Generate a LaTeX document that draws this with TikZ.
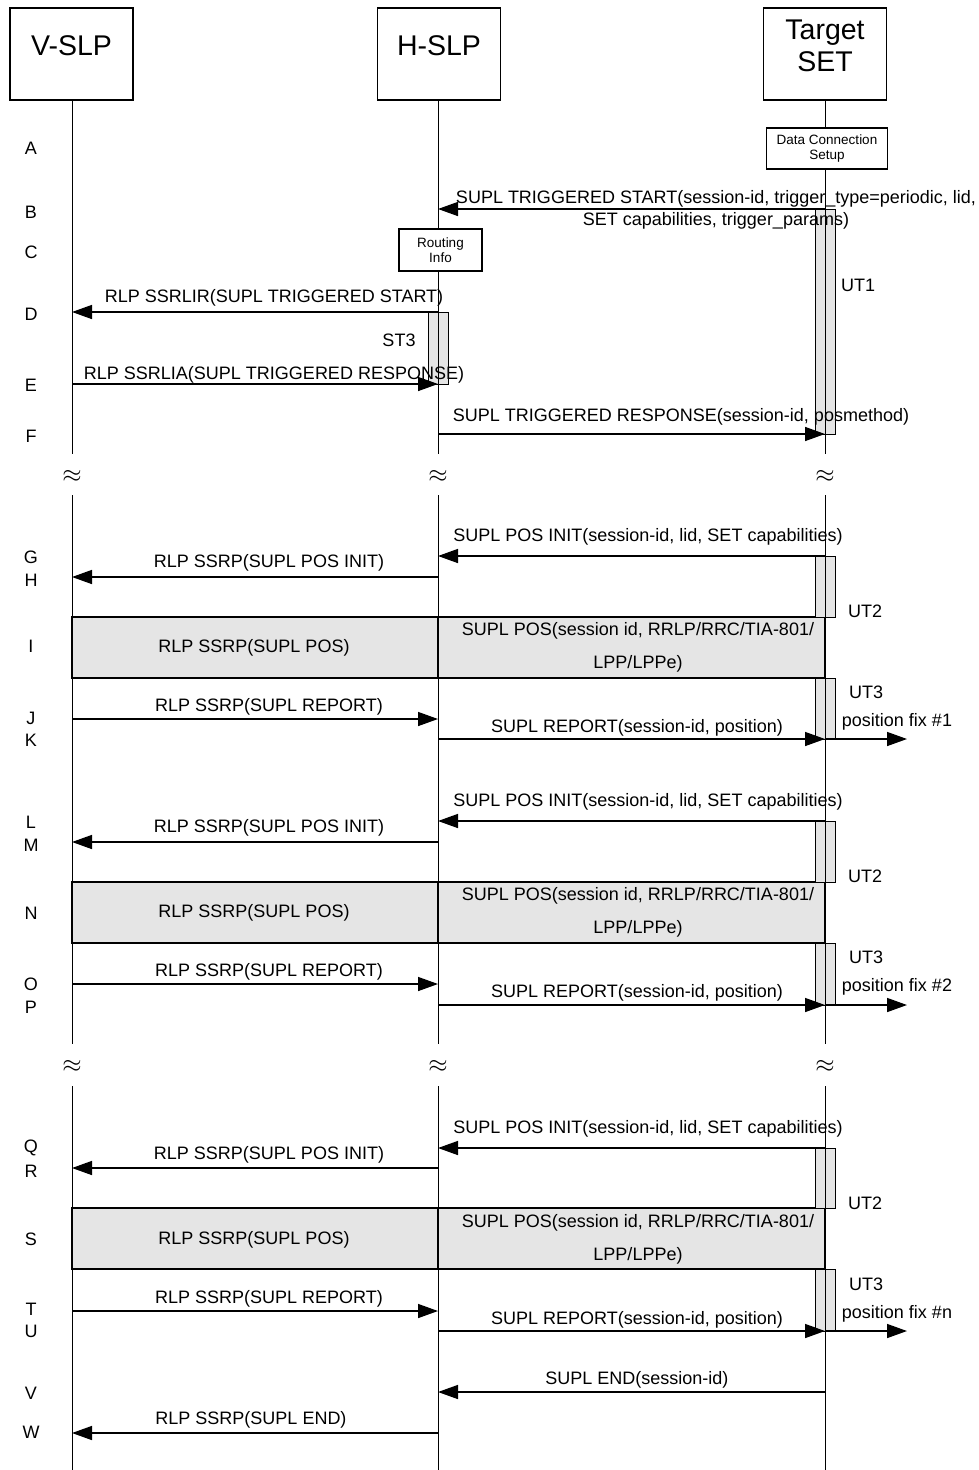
\documentclass[tikz,border=0pt]{standalone}
\usepackage{fontspec}
\setmainfont{Liberation Sans}
\usetikzlibrary{arrows.meta}
\begin{document}
\begin{tikzpicture}[x=1pt,y=-1pt,
  every node/.style={font=\fontsize{18}{22}\selectfont, inner sep=0pt},
  head/.style={draw, line width=1.5pt, minimum width=123pt, minimum height=92pt},
  headtext/.style={font=\fontsize{28.5}{32}\selectfont, align=center},
  note/.style={draw, fill=white, line width=1.2pt, font=\fontsize{13.5}{15}\selectfont, align=center},
  life/.style={line width=1pt},
  msg/.style={line width=1.5pt, -{Triangle[length=20pt,width=14pt]}},
  act/.style={draw, fill=black!10, line width=1pt},
  band/.style={draw, fill=black!10, line width=1.5pt},
  twol/.style={align=center, font=\fontsize{18}{33}\selectfont},
  brk/.style={font=\fontsize{26}{26}\selectfont},
  rowlab/.style={anchor=center}
]
\useasboundingbox (0,0) rectangle (979,1470);

% header boxes
\node[head, label={[headtext, yshift=8pt]center:V-SLP}] (vslp) at (71.5,54) {};
\node[head, label={[headtext, yshift=8pt]center:H-SLP}] (hslp) at (439,54) {};
\node[head, label={[headtext, yshift=8pt]center:Target\\SET}] (tset) at (825,54) {};

% grey bands
\foreach \t/\b in {617/678, 882/943, 1208/1269} {
  \draw[band] (72,\t) rectangle (438,\b);
  \draw[band] (438,\t) rectangle (825,\b);
}

% activation boxes
\draw[act] (815,209) rectangle (835,434);
\draw[act] (428,312) rectangle (448,384);
\foreach \t/\b in {556/617, 678/739, 821/882, 943/1005, 1148/1208, 1269/1331} {
  \draw[act] (815,\t) rectangle (835,\b);
}

% lifelines
\foreach \n/\x in {V/72,H/438,S/825} {
  \coordinate (\n l0) at (\x,100);
  \coordinate (\n l1) at (\x,454);
  \coordinate (\n l2) at (\x,495);
  \coordinate (\n l3) at (\x,1044);
  \coordinate (\n l4) at (\x,1086);
  \coordinate (\n l5) at (\x,1470);
  \draw[life] (\n l0) -- (\n l1) (\n l2) -- (\n l3) (\n l4) -- (\n l5);
  \node[brk] (\n a1) at (\x,476) {$\approx$};
  \node[brk] (\n a2) at (\x,1066) {$\approx$};
}

% notes
\node[note, minimum width=121pt, minimum height=41pt] (dcs) at (827,148.5) {Data Connection\\Setup};
\node[note, minimum width=83pt, minimum height=42pt] (ri) at (440.5,250) {Routing\\Info};

% message row coordinates
\foreach \r/\y in {B/209,D/312,E/384,F/434,G/556,H/577,J/719,K/739,L/821,M/842,O/984,P/1005,Q/1148,R/1168,T/1311,U/1331,V/1392,W/1433} {
  \coordinate (V\r) at (72,\y);
  \coordinate (H\r) at (438,\y);
  \coordinate (S\r) at (825,\y);
  \coordinate (X\r) at (907,\y);
}

% messages
\draw[msg] (SB) -- (HB);
\draw[msg] (HD) -- (VD);
\draw[msg] (VE) -- (HE);
\draw[msg] (HF) -- (SF);
\draw[msg] (SG) -- (HG);
\draw[msg] (HH) -- (VH);
\draw[msg] (VJ) -- (HJ);
\draw[msg] (HK) -- (SK);
\draw[msg] (SK) -- (XK);
\draw[msg] (SL) -- (HL);
\draw[msg] (HM) -- (VM);
\draw[msg] (VO) -- (HO);
\draw[msg] (HP) -- (SP);
\draw[msg] (SP) -- (XP);
\draw[msg] (SQ) -- (HQ);
\draw[msg] (HR) -- (VR);
\draw[msg] (VT) -- (HT);
\draw[msg] (HU) -- (SU);
\draw[msg] (SU) -- (XU);
\draw[msg] (SV) -- (HV);
\draw[msg] (HW) -- (VW);

% message labels
\node[align=center] (lB) at (716,209.5) {SUPL TRIGGERED START(session-id, trigger\_type=periodic, lid,\\SET capabilities, trigger\_params)};
\node (lD) at (274,298) {RLP SSRLIR(SUPL TRIGGERED START)};
\node (lST3) at (399,340) {ST3};
\node (lE) at (274,375) {RLP SSRLIA(SUPL TRIGGERED RESPONSE)};
\node (lF) at (681,417) {SUPL TRIGGERED RESPONSE(session-id, posmethod)};
\node (lUT1) at (858,285) {UT1};

\foreach \o/\fix in {0/1, 265/2, 592/n} {
  \node (lG\fix) at (648,537+\o) {SUPL POS INIT(session-id, lid, SET capabilities)};
  \node (lH\fix) at (269,563+\o) {RLP SSRP(SUPL POS INIT)};
  \node (lUTa\fix) at (865,611+\o) {UT2};
  \node (lIa\fix) at (254,647.5+\o) {RLP SSRP(SUPL POS)};
  \node[twol] (lIb\fix) at (638,647.5+\o) {SUPL POS(session id, RRLP/RRC/TIA-801/\\LPP/LPPe)};
  \node (lUTb\fix) at (866,692+\o) {UT3};
  \node (lJ\fix) at (269,707+\o) {RLP SSRP(SUPL REPORT)};
  \node (lK\fix) at (637,728+\o) {SUPL REPORT(session-id, position)};
  \node (lfix\fix) at (897,722+\o) {position fix \#\fix};
}

\node (lV) at (637,1380) {SUPL END(session-id)};
\node (lW) at (251,1420) {RLP SSRP(SUPL END)};

% row letters
\foreach \l/\y in {A/148,B/212,C/252,D/314,E/385,F/436,G/557,H/580,I/646,J/718,K/740,L/822,M/845,N/913,O/984,P/1007,Q/1148,R/1171,S/1239,T/1309,U/1331,V/1393,W/1432} {
  \node[rowlab] (r\l) at (31,\y) {\l};
}
\end{tikzpicture}
\end{document}
